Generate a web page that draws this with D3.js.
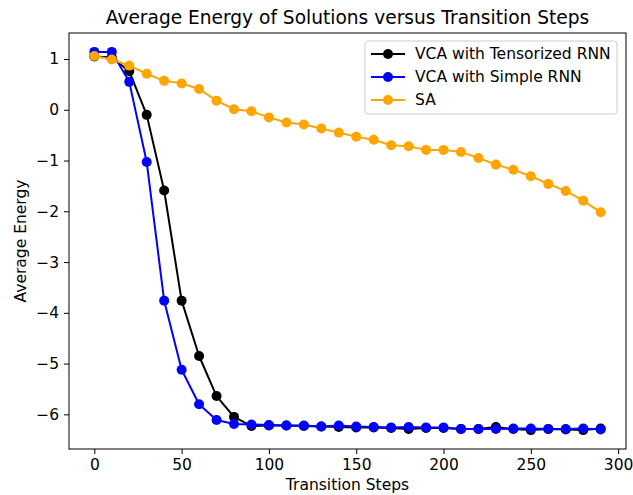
<!DOCTYPE html>
<html>
<head>
<meta charset="utf-8">
<script src="https://cdn.jsdelivr.net/npm/d3@7"></script>
<style>
body { margin: 0; background: #fff; }
text { font-family: "DejaVu Sans", sans-serif; }
</style>
</head>
<body>
<div id="plot"></div>
<script>
var margin = {top: 33, right: 7, bottom: 46, left: 69},
width = 633 - margin.left - margin.right,
height = 495 - margin.top - margin.bottom;

var steps = d3.range(0, 300, 10);

var tensorized = [1.05, 1.03, 0.76, -0.10, -1.59, -3.76, -4.85, -5.64, -6.05, -6.23,
  -6.22, -6.22, -6.23, -6.24, -6.25, -6.26, -6.26, -6.27, -6.29, -6.27,
  -6.27, -6.29, -6.29, -6.25, -6.29, -6.31, -6.29, -6.30, -6.31, -6.28];
var simple = [1.14, 1.14, 0.55, -1.03, -3.76, -5.12, -5.80, -6.11, -6.19, -6.20,
  -6.21, -6.22, -6.22, -6.24, -6.22, -6.24, -6.25, -6.26, -6.25, -6.26,
  -6.26, -6.29, -6.29, -6.29, -6.28, -6.28, -6.29, -6.29, -6.28, -6.30];
var sa = [1.06, 0.99, 0.87, 0.71, 0.57, 0.52, 0.41, 0.18, 0.01, -0.03,
  -0.15, -0.25, -0.29, -0.37, -0.45, -0.53, -0.59, -0.70, -0.72, -0.79,
  -0.79, -0.83, -0.95, -1.08, -1.18, -1.31, -1.46, -1.60, -1.79, -2.02];

var seriesNames = ["VCA with Tensorized RNN", "VCA with Simple RNN", "SA"];
var seriesColors = ["black", "blue", "orange"];
var xTicks = [0, 50, 100, 150, 200, 250, 300];
var yTicks = [-6, -5, -4, -3, -2, -1, 0, 1];

var series = [tensorized, simple, sa];

var svg = d3.select("#plot")
  .append("svg")
  .attr("width", 633)
  .attr("height", 495);

var g = svg.append("g")
  .attr("transform", "translate(" + margin.left + "," + margin.top + ")");

// matplotlib style 5% margins
var xmin = d3.min(steps), xmax = d3.max(steps);
var xpad = (xmax - xmin) * 0.05;
var x = d3.scaleLinear()
  .domain([xmin - xpad, xmax + xpad])
  .range([0, width]);

var all = tensorized.concat(simple, sa);
var ymin = d3.min(all), ymax = d3.max(all);
var ypad = (ymax - ymin) * 0.05;
var y = d3.scaleLinear()
  .domain([ymin - ypad, ymax + ypad])
  .range([height, 0]);

function minus(d) { return d < 0 ? "\u2212" + Math.abs(d) : String(d); }

var xAxis = g.append("g")
  .attr("transform", "translate(0," + height + ")")
  .call(d3.axisBottom(x).tickValues(xTicks).tickSize(5).tickPadding(5).tickFormat(minus));
var yAxis = g.append("g")
  .call(d3.axisLeft(y).tickValues(yTicks).tickSize(5).tickPadding(5).tickFormat(minus));

[xAxis, yAxis].forEach(function(a) {
  a.select(".domain").remove();
  a.selectAll("text").style("font-size", "15.5px").attr("fill", "black")
    .style("font-family", "DejaVu Sans, sans-serif");
  a.selectAll("line").attr("stroke", "black").attr("stroke-width", 1);
});

var line = d3.line()
  .x(function(d, i) { return x(steps[i]); })
  .y(function(d) { return y(d); });

series.forEach(function(s, k) {
  var sg = g.append("g");
  sg.append("path")
    .attr("d", line(s))
    .attr("fill", "none")
    .attr("stroke", seriesColors[k])
    .attr("stroke-width", 2)
    .attr("stroke-linejoin", "round");
  sg.selectAll("circle")
    .data(s)
    .enter()
    .append("circle")
    .attr("cx", function(d, i) { return x(steps[i]); })
    .attr("cy", function(d) { return y(d); })
    .attr("r", 5)
    .attr("fill", seriesColors[k]);
});

// frame
g.append("rect")
  .attr("width", width)
  .attr("height", height)
  .attr("fill", "none")
  .attr("stroke", "black")
  .attr("stroke-width", 1);

// legend
var lg = g.append("g").attr("transform", "translate(" + (365 - margin.left) + "," + (41 - margin.top) + ")");
lg.append("rect")
  .attr("width", 252)
  .attr("height", 73)
  .attr("rx", 3)
  .attr("fill", "white")
  .attr("fill-opacity", 0.8)
  .attr("stroke", "#cccccc")
  .attr("stroke-width", 1);
seriesNames.forEach(function(name, k) {
  var yy = 13 + k * 23;
  lg.append("line")
    .attr("x1", 6).attr("x2", 40)
    .attr("y1", yy).attr("y2", yy)
    .attr("stroke", seriesColors[k])
    .attr("stroke-width", 2);
  lg.append("circle")
    .attr("cx", 23).attr("cy", yy).attr("r", 5)
    .attr("fill", seriesColors[k]);
  lg.append("text")
    .attr("x", 50).attr("y", yy)
    .attr("dy", "0.35em")
    .style("font-size", "15.5px")
    .text(name);
});

// title and labels
svg.append("text")
  .attr("x", margin.left + width / 2)
  .attr("y", 24)
  .attr("text-anchor", "middle")
  .style("font-size", "18.6px")
  .text("Average Energy of Solutions versus Transition Steps");

svg.append("text")
  .attr("x", margin.left + width / 2)
  .attr("y", 490)
  .attr("text-anchor", "middle")
  .style("font-size", "15.5px")
  .text("Transition Steps");

svg.append("text")
  .attr("transform", "translate(26," + (margin.top + height / 2) + ") rotate(-90)")
  .attr("text-anchor", "middle")
  .style("font-size", "15.5px")
  .text("Average Energy");
</script>
</body>
</html>
